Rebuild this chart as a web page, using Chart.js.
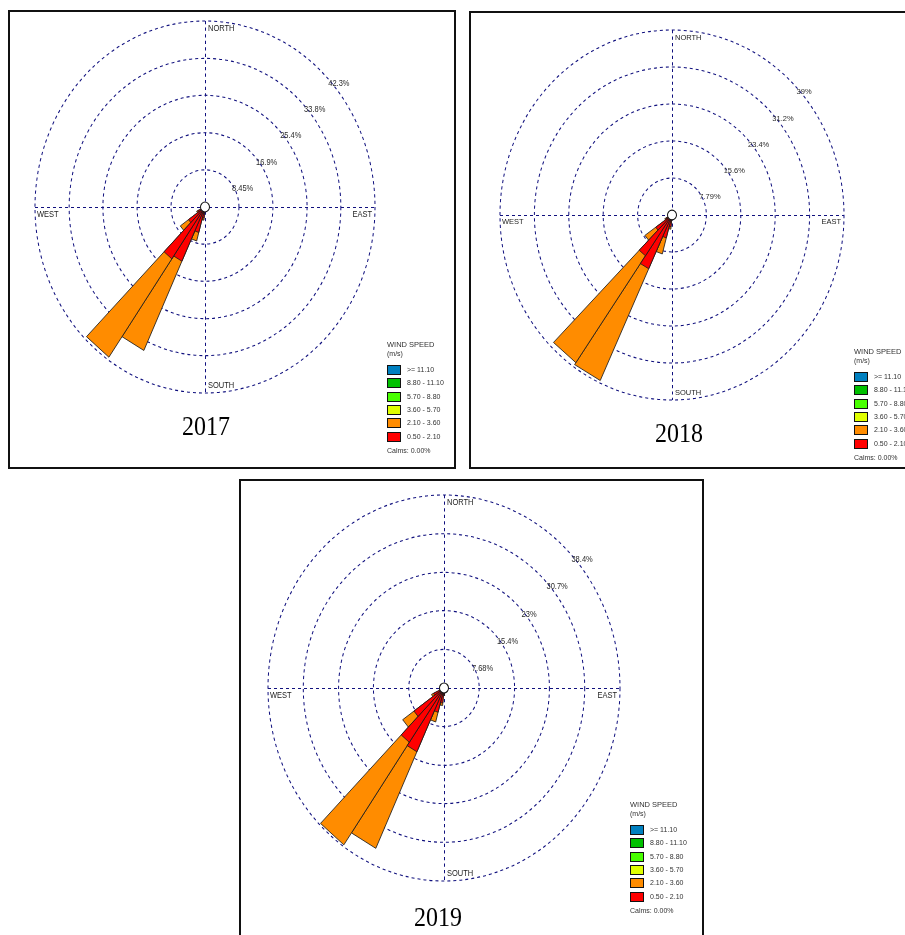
<!DOCTYPE html>
<html>
<head>
<meta charset="utf-8">
<title>Wind roses 2017 - 2019</title>
<script src="https://cdn.jsdelivr.net/npm/chart.js@4.4.0/dist/chart.umd.min.js"></script>
<style>
    body {
        margin: 0;
        width: 905px;
        height: 935px;
        overflow: hidden;
        position: relative;
        background: #fff;
        font-family: "Liberation Sans", Arial, sans-serif;
    }
    .frame {
        position: absolute;
        box-sizing: border-box;
        border: 2px solid #111;
    }
    .rose {
        position: absolute;
    }
    .year {
        position: absolute;
        width: 100px;
        text-align: center;
        font-family: "Liberation Serif", "Times New Roman", serif;
        font-size: 24px;
        line-height: 24px;
        color: #000;
        transform: scaleY(1.1);
    }
    .legend {
        position: absolute;
        width: 80px;
        height: 130px;
        color: #333;
    }
    .legend div {
        position: absolute;
        left: 0;
        white-space: nowrap;
        line-height: 10px;
    }
    .lg-title { font-size: 7.5px; }
    .lg-unit { font-size: 7px; }
    .sw {
        position: absolute;
        left: 0;
        width: 14px;
        height: 10px;
        box-sizing: border-box;
        border: 1px solid #111;
    }
    .lg-txt {
        position: absolute;
        left: 20px;
        font-size: 7px;
    }
    .lg-calm { font-size: 7px; }
</style>
</head>
<body>

<div class="frame" style="left:8px; top:10px; width:448px; height:459px;"></div>
<div class="frame" style="left:469px; top:11px; width:460px; height:458px;"></div>
<div class="frame" style="left:239px; top:479px; width:465px; height:470px;"></div>

<canvas id="rose2017" class="rose"></canvas>
<canvas id="rose2018" class="rose"></canvas>
<canvas id="rose2019" class="rose"></canvas>

<script>
// Directions (degrees, 10 degree sectors) and speed classes
const directions = [0, 10, 20, 30, 40, 50, 60, 70, 80,
                    90, 100, 110, 120, 130, 140, 150, 160, 170,
                    180, 190, 200, 210, 220, 230, 240, 250, 260,
                    270, 280, 290, 300, 310, 320, 330, 340, 350];
const speedClasses = ['>= 11.10', '8.80 - 11.10', '5.70 - 8.80', '3.60 - 5.70', '2.10 - 3.60', '0.50 - 2.10'];
const compassLabels = ['NORTH', 'EAST', 'SOUTH', 'WEST'];
const years = ['2017', '2018', '2019'];
const calms = ['0.00%', '0.00%', '0.00%'];

// Frequency (%) per direction, 0.50 - 2.10 m/s
const red2017 = [0, 0, 0, 0, 0, 0, 0, 0, 0,
                 0, 0, 0, 0, 0, 0, 0, 0, 0.3,
                 1, 2.5, 6, 13.6, 14.4, 5, 2, 0.5, 0,
                 0, 0, 0, 0, 0, 0, 0, 0, 0];
// Frequency (%) per direction, 2.10 - 3.60 m/s
const orange2017 = [0, 0, 0, 0, 0, 0, 0, 0, 0,
                    0, 0, 0, 0, 0, 0, 0, 0, 0,
                    0, 0.5, 2, 22.4, 27.3, 2.5, 0.3, 0, 0,
                    0, 0, 0, 0, 0, 0, 0, 0, 0];

const red2018 = [0, 0, 0, 0, 0, 0, 0, 0, 0,
                 0, 0, 0, 0, 0, 0, 0, 0, 0.3,
                 1, 2.5, 5, 12.5, 10.5, 4.5, 1.5, 0.5, 0,
                 0, 0, 0, 0, 0, 0, 0, 0, 0];
const orange2018 = [0, 0, 0, 0, 0, 0, 0, 0, 0,
                    0, 0, 0, 0, 0, 0, 0, 0, 0,
                    0, 0.5, 3.5, 26, 27.5, 3, 0.3, 0, 0,
                    0, 0, 0, 0, 0, 0, 0, 0, 0];

const red2019 = [0, 0, 0, 0, 0, 0, 0, 0, 0,
                 0, 0, 0, 0, 0, 0, 0, 0, 0.5,
                 1.5, 3, 5, 14, 13.2, 8, 2.5, 1, 0.8,
                 0.5, 0, 0, 0, 0, 0, 0, 0, 0];
const orange2019 = [0, 0, 0, 0, 0, 0, 0, 0, 0,
                    0, 0, 0, 0, 0, 0, 0, 0, 0,
                    0, 0.5, 2, 21.2, 24.9, 3, 0.5, 0, 0,
                    0, 0, 0, 0, 0, 0, 0, 0, 0];

// Ring values and their tick labels
const rings2017 = [8.45, 16.9, 25.4, 33.8, 42.3];
const ringText2017 = ['8.45%', '16.9%', '25.4%', '33.8%', '42.3%'];
const rings2018 = [7.79, 15.6, 23.4, 31.2, 39];
const ringText2018 = ['7.79%', '15.6%', '23.4%', '31.2%', '39%'];
const rings2019 = [7.68, 15.4, 23, 30.7, 38.4];
const ringText2019 = ['7.68%', '15.4%', '23%', '30.7%', '38.4%'];

// Colours
const classColors = ['#0080c0', '#00c000', '#48ff00', '#e0ff00', '#ff8c00', '#ff0000'];
const gridColor = '#10107e';

// Page placement of each rose (centre, horizontal and vertical radius)
const placement = [
    { cx: 205, cy: 207, rx: 170, ry: 186, legendX: 387, legendY: 340, yearX: 206, yearY: 414 },
    { cx: 672, cy: 215, rx: 172, ry: 185, legendX: 854, legendY: 347, yearX: 679, yearY: 421 },
    { cx: 444, cy: 688, rx: 176, ry: 193, legendX: 630, legendY: 800, yearX: 438, yearY: 905 }
];
const PAD = 22;

// The source roses are a little taller than wide: stretch the drawing vertically
const stretchPlugin = {
    id: 'stretch',
    beforeDraw(chart, args, opts) {
        const cy = chart.scales.r.yCenter;
        const ctx = chart.ctx;
        ctx.save();
        ctx.translate(0, cy);
        ctx.scale(1, opts.k);
        ctx.translate(0, -cy);
    },
    afterDraw(chart) {
        chart.ctx.restore();
    }
};

// Crosshair, compass words, ring labels and the calm circle
const roseDecor = {
    id: 'roseDecor',
    beforeDatasetsDraw(chart, args, opts) {
        const r = chart.scales.r;
        const ctx = chart.ctx;
        const cx = r.xCenter, cy = r.yCenter, R = r.drawingArea;

        ctx.save();
        ctx.strokeStyle = gridColor;
        ctx.lineWidth = 1;
        ctx.setLineDash([3, 3]);
        ctx.beginPath();
        ctx.moveTo(cx - R, cy + 0.5);
        ctx.lineTo(cx + R, cy + 0.5);
        ctx.moveTo(cx + 0.5, cy - R);
        ctx.lineTo(cx + 0.5, cy + R);
        ctx.stroke();
        ctx.setLineDash([]);

        ctx.fillStyle = '#1a1a1a';
        ctx.font = '7.5px "Liberation Sans", Arial, sans-serif';
        ctx.textAlign = 'left';
        ctx.textBaseline = 'top';
        ctx.fillText(compassLabels[0], cx + 3, cy - R + 3.5);
        ctx.fillText(compassLabels[3], cx - R + 2, cy + 3);
        ctx.textAlign = 'right';
        ctx.fillText(compassLabels[1], cx + R - 3, cy + 3);
        ctx.textAlign = 'left';
        ctx.textBaseline = 'alphabetic';
        ctx.fillText(compassLabels[2], cx + 3, cy + R - 5);

        // ring labels along the north-east diagonal
        ctx.fillStyle = '#2a2a2a';
        ctx.font = '7.5px "Liberation Sans", Arial, sans-serif';
        ctx.textBaseline = 'middle';
        opts.rings.forEach((v, i) => {
            const d = r.getDistanceFromCenterForValue(v);
            const px = cx + d * Math.SQRT1_2;
            const py = cy - d * Math.SQRT1_2;
            ctx.fillText(opts.text[i], px + 3, py + 7.5);
        });
        ctx.restore();
    },
    afterDatasetsDraw(chart) {
        const r = chart.scales.r;
        const ctx = chart.ctx;
        ctx.save();
        ctx.beginPath();
        ctx.arc(r.xCenter, r.yCenter, 4.5, 0, Math.PI * 2);
        ctx.fillStyle = '#fff';
        ctx.fill();
        ctx.strokeStyle = '#111';
        ctx.lineWidth = 1;
        ctx.stroke();
        ctx.restore();
    }
};

function drawRose(id, place, red, orange, rings, ringText) {
    const canvas = document.getElementById(id);
    const size = 2 * place.rx + 2 * PAD;
    const stretch = place.ry / place.rx;
    const h = Math.round(size * stretch);
    canvas.width = size;
    canvas.height = h;
    canvas.style.left = (place.cx - size / 2) + 'px';
    canvas.style.top = (place.cy - h / 2) + 'px';

    // orange sits on top of red, so its outer radius is the sum
    const total = red.map((v, i) => v + orange[i]);
    const barBorder = (c) => (c.raw > 0 ? 0.8 : 0);

    return new Chart(canvas, {
        type: 'polarArea',
        data: {
            labels: directions,
            datasets: [
                { label: speedClasses[5], data: red, backgroundColor: classColors[5],
                  borderColor: '#1a1a1a', borderWidth: barBorder, circular: false },
                { label: speedClasses[4], data: total, backgroundColor: classColors[4],
                  borderColor: '#1a1a1a', borderWidth: barBorder, circular: false }
            ]
        },
        options: {
            responsive: false,
            animation: false,
            events: [],
            layout: { padding: PAD },
            plugins: {
                legend: { display: false },
                tooltip: { enabled: false },
                stretch: { k: stretch },
                roseDecor: { rings: rings, text: ringText }
            },
            scales: {
                r: {
                    min: 0,
                    max: rings[rings.length - 1],
                    startAngle: -5,
                    afterBuildTicks: (scale) => {
                        scale.ticks = [0].concat(rings).map(v => ({ value: v }));
                    },
                    ticks: { display: false },
                    grid: { circular: true, color: gridColor, lineWidth: 1 },
                    border: { dash: [3, 3] },
                    angleLines: { display: false },
                    pointLabels: { display: false }
                }
            }
        },
        plugins: [stretchPlugin, roseDecor]
    });
}

function buildLegend(place, calmText) {
    const box = document.createElement('div');
    box.className = 'legend';
    box.style.left = place.legendX + 'px';
    box.style.top = place.legendY + 'px';

    const title = document.createElement('div');
    title.className = 'lg-title';
    title.style.top = '0px';
    title.textContent = 'WIND SPEED';
    box.appendChild(title);

    const unit = document.createElement('div');
    unit.className = 'lg-unit';
    unit.style.top = '9px';
    unit.textContent = '(m/s)';
    box.appendChild(unit);

    speedClasses.forEach((s, i) => {
        const row = document.createElement('div');
        row.style.top = (25 + i * 13.3) + 'px';
        const sw = document.createElement('span');
        sw.className = 'sw';
        sw.style.background = classColors[i];
        const txt = document.createElement('span');
        txt.className = 'lg-txt';
        txt.textContent = s;
        row.appendChild(sw);
        row.appendChild(txt);
        box.appendChild(row);
    });

    const calm = document.createElement('div');
    calm.className = 'lg-calm';
    calm.style.top = (25 + 5 * 13.3 + 14) + 'px';
    calm.textContent = 'Calms: ' + calmText;
    box.appendChild(calm);

    document.body.appendChild(box);
}

function buildYear(place, text) {
    const el = document.createElement('div');
    el.className = 'year';
    el.style.left = (place.yearX - 50) + 'px';
    el.style.top = place.yearY + 'px';
    el.textContent = text;
    document.body.appendChild(el);
}

drawRose('rose2017', placement[0], red2017, orange2017, rings2017, ringText2017);
drawRose('rose2018', placement[1], red2018, orange2018, rings2018, ringText2018);
drawRose('rose2019', placement[2], red2019, orange2019, rings2019, ringText2019);

placement.forEach((p, i) => {
    buildLegend(p, calms[i]);
    buildYear(p, years[i]);
});
</script>
</body>
</html>
